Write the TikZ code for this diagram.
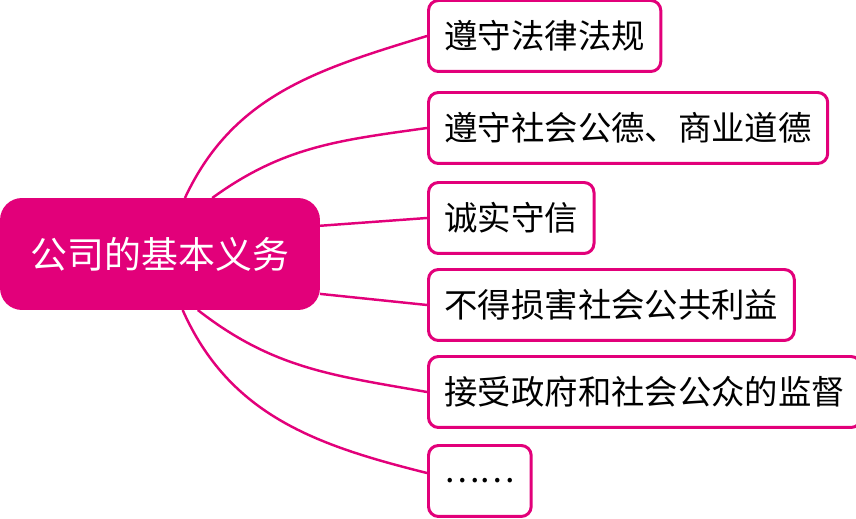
\documentclass[tikz,border=0pt]{standalone}
\usepackage{fontspec}
\newfontfamily\cjk{Noto Sans CJK SC}
\usetikzlibrary{positioning,calc}
\definecolor{rosered}{RGB}{226,0,122}

\begin{document}
\begin{tikzpicture}[
        x=0.02cm, y=-0.02cm, % one unit is one pixel of the layout, y runs down
        % Define a style for the filled box in the middle
        hub_box/.style={rectangle,rounded corners=0.44cm,fill=rosered,text=white,
            minimum width=6.4cm,minimum height=2.24cm,inner sep=0pt,outer sep=0pt,
            font=\cjk\fontsize{21}{25}\selectfont},
        % Define a style for the boxes on the right
        duty_box/.style={rectangle,rounded corners=0.2cm,draw=rosered,line width=1.7pt,
            fill=white,minimum height=1.42cm,inner xsep=0.32cm,anchor=west,
            font=\cjk\fontsize{19}{23}\selectfont},
        % Define a style for the connecting curves
        branch/.style={draw=rosered,line width=1.4pt}
    ]

    % Fix the size of the page
    \useasboundingbox (0,0) rectangle (856,519);

    % The central box
    \node[hub_box] (hub) at (160,254) {公司的基本义务};

    % The boxes on the right, one under the other
    \foreach \i/\ypos/\txt in {1/36/遵守法律法规, 2/128/遵守社会公德、商业道德,
            3/218/诚实守信, 4/305/不得损害社会公共利益,
            5/392/接受政府和社会公众的监督, 6/481/……}
    {
        \node[duty_box] (duty\i) at (427,\ypos) {\txt};
    }

    % Curves from the central box to each box on the right
    \draw[branch] (hub.66) to[out=65,in=197] (duty1.west);
    \draw[branch] (hub.47) to[out=36,in=188] (duty2.west);
    \draw[branch] (hub.10) -- (duty3.west);
    \draw[branch] (hub.-14) -- (duty4.west);
    \draw[branch] (hub.-56) to[out=-38,in=170] (duty5.west);
    \draw[branch] (hub.-68) to[out=-66,in=166] ($(duty6.west)+(0,-8)$);

\end{tikzpicture}
\end{document}
